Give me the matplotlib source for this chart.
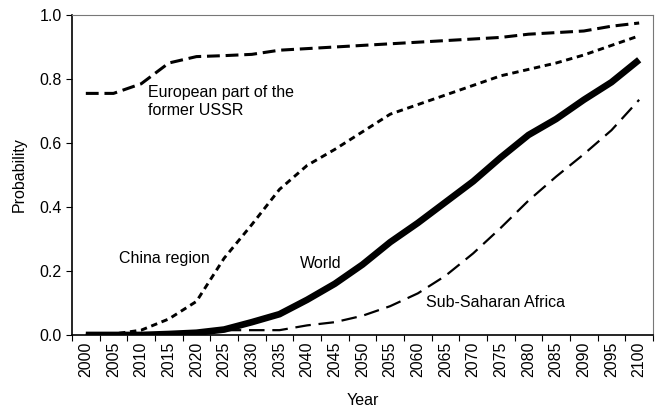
import matplotlib.pyplot as plt
from matplotlib.ticker import FixedLocator, NullFormatter

plt.rcParams['font.family'] = ['Liberation Sans', 'DejaVu Sans']

years = list(range(2000, 2101, 5))
europe = [0.755, 0.755, 0.785, 0.85, 0.87, 0.873, 0.877, 0.89, 0.895, 0.90, 0.905,
          0.91, 0.915, 0.92, 0.925, 0.93, 0.94, 0.945, 0.95, 0.965, 0.975]
china = [0.0, 0.003, 0.015, 0.05, 0.105, 0.24, 0.345, 0.455, 0.53, 0.58, 0.635,
         0.69, 0.72, 0.75, 0.78, 0.81, 0.83, 0.85, 0.875, 0.905, 0.935]
world = [0.0, 0.0, 0.0, 0.003, 0.007, 0.017, 0.04, 0.065, 0.11, 0.16, 0.22,
         0.29, 0.35, 0.415, 0.48, 0.555, 0.625, 0.675, 0.735, 0.79, 0.86]
africa = [0.0, 0.0, 0.0, 0.003, 0.007, 0.015, 0.015, 0.015, 0.03, 0.04, 0.06,
          0.09, 0.13, 0.185, 0.255, 0.335, 0.42, 0.495, 0.565, 0.64, 0.735]

FS = 11.5

fig = plt.figure(figsize=(6.58, 4.11), dpi=100)
ax = fig.add_axes([0.1094, 0.185, 0.883, 0.7785])

x = list(range(len(years)))
ax.plot(x, africa, color='black', lw=1.6, dashes=(7, 3.5))
ax.plot(x, europe, color='black', lw=2.2, dashes=(4.2, 1.9))
ax.plot(x, china, color='black', lw=2.1, dashes=(2.2, 1.6))
ax.plot(x, world, color='black', lw=4.8, solid_capstyle='butt')

ax.set_xlim(-0.5, len(years) - 0.5)
ax.set_ylim(0, 1.0)
ax.set_yticks([0, 0.2, 0.4, 0.6, 0.8, 1.0])
ax.set_yticklabels(['0.0', '0.2', '0.4', '0.6', '0.8', '1.0'], fontsize=FS)

# category axis: tick marks between categories, labels at centres
ax.xaxis.set_major_locator(FixedLocator([i - 0.5 for i in range(len(years) + 1)]))
ax.xaxis.set_major_formatter(NullFormatter())
ax.xaxis.set_minor_locator(FixedLocator(x))
ax.set_xticklabels([str(y) for y in years], minor=True, rotation=90, fontsize=FS)
ax.tick_params(axis='x', which='minor', length=0, pad=5)
ax.tick_params(axis='x', which='major', length=4, direction='out')
ax.tick_params(axis='y', length=4, direction='out')

ax.spines['top'].set_color('#777777')
ax.spines['right'].set_color('#777777')
for s in ['left', 'bottom']:
    ax.spines[s].set_linewidth(1.2)

ax.set_xlabel('Year', fontsize=FS, labelpad=11)
ax.set_ylabel('Probability', fontsize=FS, labelpad=9)

ax.text(2.25, 0.73, 'European part of the\nformer USSR', fontsize=FS, va='center', ha='left', linespacing=1.25)
ax.text(1.2, 0.24, 'China region', fontsize=FS, va='center', ha='left')
ax.text(7.74, 0.222, 'World', fontsize=FS, va='center', ha='left')
ax.text(12.29, 0.103, 'Sub-Saharan Africa', fontsize=FS, va='center', ha='left')

fig.savefig('out.png', dpi=100)
